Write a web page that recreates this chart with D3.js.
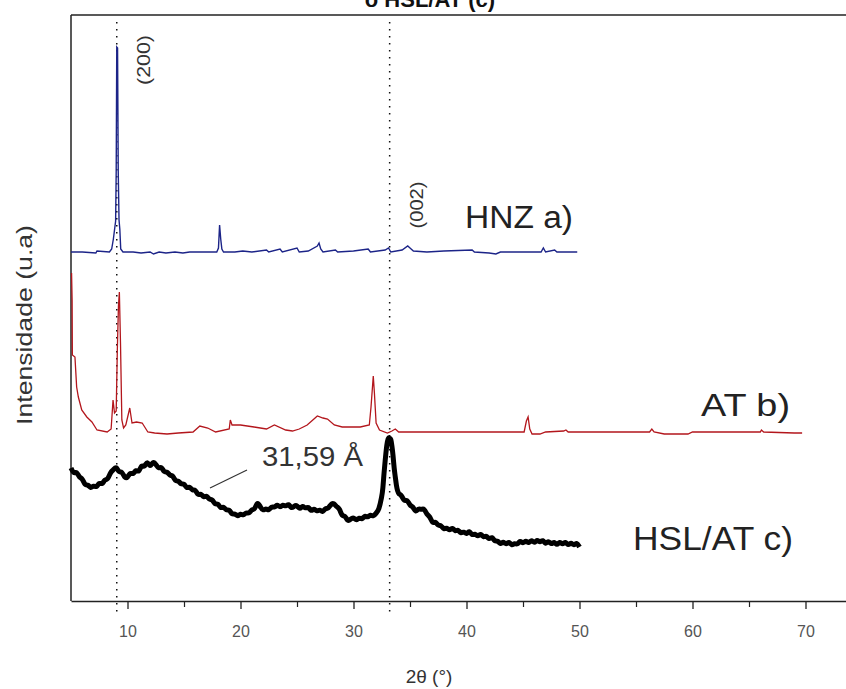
<!DOCTYPE html>
<html>
<head>
<meta charset="utf-8">
<script src="https://cdn.jsdelivr.net/npm/d3@7"></script>
<style>
  html, body { margin: 0; padding: 0; background: #fff; }
  svg { display: block; font-family: "Liberation Sans", Arial, sans-serif; }
</style>
</head>
<body>
<svg id="chart" width="846" height="689"></svg>
<script>
// XRD patterns, 2θ (°) vs intensity (a.u., stacked)
const xTicks = [10, 20, 30, 40, 50, 60, 70];
const xMinorTicks = [15, 25, 35, 45, 55, 65];
const referenceLines = [9.05, 33.2];

// HNZ a)
const hnz = [[5.0,349],[6.0,349],[7.2,348],[7.3,350],[8.4,349],[8.6,352],[8.75,362],[8.85,371],[8.95,380],[9.0,430],[9.05,554],[9.12,553],[9.18,430],[9.25,381],[9.32,372],[9.4,352],[9.6,349],[10.5,349],[11.2,348],[12.0,349],[12.3,347],[12.8,349],[13.4,348],[14.2,349],[14.9,348],[15.5,349],[17.9,349],[18.05,353],[18.15,376],[18.25,362],[18.35,352],[18.5,349],[19.5,349],[20.2,350],[21.0,349],[22.3,351],[22.5,349],[23.5,352],[23.7,349],[25.0,353],[25.2,349],[26.0,350],[26.8,355],[26.95,358],[27.1,352],[27.3,349],[28.4,351],[28.6,349],[30.0,350],[31.3,352],[31.5,349],[32.8,351],[33.1,353],[33.3,349],[34.3,351],[34.8,355],[35.0,353],[35.3,350],[36.5,349],[38.0,350],[40.5,351],[40.7,349],[42.0,348],[42.6,347],[43.0,349],[46.6,349],[46.8,353],[47.0,349],[47.8,351],[48.0,349],[49.8,349]];

// AT b)
const at = [[5.05,328],[5.1,300],[5.12,246],[5.35,244],[5.5,214],[5.65,204],[5.95,191],[6.4,184],[6.85,179],[7.3,171],[8.2,169],[8.55,172],[8.72,201],[8.85,188],[9.0,190],[9.1,251],[9.2,295],[9.28,309],[9.38,258],[9.5,181],[9.65,173],[9.85,176],[10.2,193],[10.4,178],[10.8,179],[11.3,178],[11.8,169],[12.4,168],[13.5,167],[14.5,168],[15.8,169],[16.4,175],[17.1,173],[17.8,169],[19.0,172],[19.1,181],[19.25,176],[20.0,176],[21.2,174],[22.3,172],[23.0,176],[24.0,171],[24.6,170],[25.2,172],[25.9,176],[26.5,182],[26.8,185],[27.3,183],[27.7,182],[28.3,176],[29.0,174],[30.6,174],[31.4,176],[31.55,194],[31.75,225],[31.85,208],[32.0,178],[32.3,171],[33.0,168],[33.4,170],[33.7,172],[34.0,169],[36.0,169],[40.0,169],[45.1,169],[45.3,180],[45.45,184],[45.6,172],[45.8,167],[46.5,167],[47.0,169],[48.6,170],[48.8,171],[49.0,169],[56.2,169],[56.4,172],[56.6,169],[57.5,167],[59.6,167],[60.0,169],[66.0,169],[66.1,171],[66.3,169],[69.0,168],[69.7,168]];

// HSL/AT c)
const hslAt = [
  [5.0,133],[5.25,127],[5.5,130],[5.75,123],[6.0,123],[6.25,115],[6.5,117],[6.75,112],[7.0,116],[7.25,113],
  [7.5,119],[7.75,116],[8.0,122],[8.25,121],[8.5,129],[8.75,131],[9.0,135],[9.25,128],[9.5,130],[9.75,123],
  [10.0,123],[10.25,129],[10.5,126],[10.75,132],[11.0,128],[11.25,137],[11.5,133],[11.75,141],[12.0,133],[12.25,140],
  [12.5,137],[12.75,132],[13.0,135],[13.25,128],[13.5,130],[13.75,125],[14.0,126],[14.25,119],[14.5,121],[14.75,116],
  [15.0,118],[15.25,112],[15.5,115],[15.75,110],[16.0,112],[16.25,105],[16.5,108],[16.75,103],[17.0,106],[17.25,101],
  [17.5,102],[17.75,96],[18.0,98],[18.25,92],[18.5,95],[18.75,90],[19.0,92],[19.25,86],[19.5,88],[19.75,84],
  [20.0,88],[20.25,85],[20.5,89],[20.75,87],[21.0,92],[21.25,91],[21.5,100],[21.75,94],[22.0,90],[22.25,93],
  [22.5,90],[22.75,95],[23.0,93],[23.25,97],[23.5,93],[23.75,97],[24.0,94],[24.25,98],[24.5,92],[24.75,95],
  [25.0,96],[25.25,91],[25.5,96],[25.75,92],[26.0,95],[26.25,89],[26.5,93],[26.75,89],[27.0,92],[27.25,88],
  [27.5,93],[27.75,92],[28.0,97],[28.25,98],[28.5,94],[28.75,93],[29.0,84],[29.25,86],[29.5,79],[29.75,82],
  [30.0,84],[30.25,80],[30.5,84],[30.75,81],[31.0,86],[31.25,83],[31.5,87],[31.75,84],[32.0,88],[32.25,91],
  [32.5,104],[32.6,112],[32.7,128],[32.8,140],[32.9,152],[33.0,160],[33.1,164],[33.2,162],[33.3,163],[33.4,155],
  [33.5,146],[33.6,132],[33.7,124],[33.8,115],[33.9,110],[34.0,107],
  [34.25,106],[34.5,99],[34.75,102],[35.0,95],[35.25,95],[35.5,88],[35.75,93],[36.0,91],[36.25,93],[36.5,86],
  [36.75,85],[37.0,77],[37.25,80],[37.5,75],[37.75,76],[38.0,71],[38.25,74],[38.5,70],[38.75,74],[39.0,69],
  [39.25,72],[39.5,67],[39.75,70],[40.0,66],[40.25,71],[40.5,65],[40.75,68],[41.0,64],[41.25,68],[41.5,63],
  [41.75,66],[42.0,61],[42.25,65],[42.5,59],[42.75,61],[43.0,56],[43.25,60],[43.5,56],[43.75,60],[44.0,55],
  [44.25,58],[44.5,56],[44.75,61],[45.0,57],[45.25,61],[45.5,57],[45.75,62],[46.0,57],[46.25,62],[46.5,58],
  [46.75,62],[47.0,56],[47.25,61],[47.5,56],[47.75,60],[48.0,55],[48.25,60],[48.5,56],[48.75,60],[49.0,55],
  [49.25,59],[49.5,55],[49.75,59],[50.0,54]
];

const svg = d3.select("#chart");
const plotLeft = 71, plotTop = 15, plotBottom = 601;

const x = d3.scaleLinear().domain([5, 75]).range([plotLeft, plotLeft + 70 * 11.3]);
const y = d3.scaleLinear().domain([0, 586]).range([plotBottom, plotTop]);

// title, partly above the visible area
svg.append("text")
  .attr("x", 430).attr("y", 7)
  .attr("text-anchor", "middle")
  .attr("font-size", 22).attr("font-weight", "bold").attr("fill", "#111")
  .text("o HSL/AT (c)");

// frame: top and left borders
svg.append("line").attr("x1", plotLeft).attr("x2", 846).attr("y1", plotTop).attr("y2", plotTop)
  .attr("stroke", "#222").attr("stroke-width", 1.5);
svg.append("line").attr("x1", plotLeft).attr("x2", plotLeft).attr("y1", plotTop).attr("y2", plotBottom)
  .attr("stroke", "#222").attr("stroke-width", 1.5);

// reference dotted lines
svg.selectAll("line.ref").data(referenceLines).join("line")
  .attr("class", "ref")
  .attr("x1", d => x(d)).attr("x2", d => x(d))
  .attr("y1", 22).attr("y2", 612)
  .attr("stroke", "#111").attr("stroke-width", 1.5)
  .attr("stroke-dasharray", "1.5,5.5");

const line = d3.line().x(d => x(d[0])).y(d => y(d[1]));
const noisyLine = d3.line().x(d => x(d[0])).y(d => y(d[1])).curve(d3.curveBasis);

svg.append("path").datum(hnz).attr("d", line)
  .attr("fill", "none").attr("stroke", "#1c2488").attr("stroke-width", 1.4);
svg.append("path").datum(at).attr("d", line)
  .attr("fill", "none").attr("stroke", "#b3161c").attr("stroke-width", 1.3);
svg.append("path").datum(hslAt).attr("d", noisyLine)
  .attr("fill", "none").attr("stroke", "#000").attr("stroke-width", 5);

// bottom axis
const gx = svg.append("g").attr("transform", `translate(0,${plotBottom})`);
gx.call(d3.axisBottom(x).tickValues(xTicks).tickFormat(d3.format("d")).tickSize(8).tickSizeOuter(0).tickPadding(17));
gx.select(".domain").attr("stroke", "#222").attr("stroke-width", 1.5);
gx.selectAll(".tick line").attr("stroke", "#222").attr("stroke-width", 1.3);
gx.selectAll(".tick text").attr("font-size", 16).attr("fill", "#555")
  .attr("font-family", "'Liberation Sans', Arial, sans-serif");
const gm = svg.append("g").attr("transform", `translate(0,${plotBottom})`);
gm.call(d3.axisBottom(x).tickValues(xMinorTicks).tickFormat("").tickSize(6).tickSizeOuter(0));
gm.select(".domain").remove();
gm.selectAll(".tick line").attr("stroke", "#222").attr("stroke-width", 1.2);

// axis titles
svg.append("text").attr("x", 429).attr("y", 683)
  .attr("text-anchor", "middle").attr("font-size", 19).attr("fill", "#333")
  .text("2θ (°)");
svg.append("text")
  .attr("transform", "translate(32,325) rotate(-90)")
  .attr("text-anchor", "middle").attr("font-size", 22).attr("fill", "#333")
  .attr("textLength", 200).attr("lengthAdjust", "spacingAndGlyphs")
  .text("Intensidade (u.a)");

// peak indices
svg.append("text").attr("transform", "translate(150,60) rotate(-90)")
  .attr("text-anchor", "middle").attr("font-size", 18).attr("fill", "#333")
  .attr("textLength", 50).attr("lengthAdjust", "spacingAndGlyphs").text("(200)");
svg.append("text").attr("transform", "translate(423,205) rotate(-90)")
  .attr("text-anchor", "middle").attr("font-size", 18).attr("fill", "#333")
  .attr("textLength", 47).attr("lengthAdjust", "spacingAndGlyphs").text("(002)");

// series labels
svg.append("text").attr("x", 465).attr("y", 228).attr("font-size", 31).attr("fill", "#222")
  .attr("textLength", 108).attr("lengthAdjust", "spacingAndGlyphs").text("HNZ a)");
svg.append("text").attr("x", 701).attr("y", 416).attr("font-size", 31).attr("fill", "#222")
  .attr("textLength", 89).attr("lengthAdjust", "spacingAndGlyphs").text("AT b)");
svg.append("text").attr("x", 633).attr("y", 550).attr("font-size", 33).attr("fill", "#222")
  .attr("textLength", 160).attr("lengthAdjust", "spacingAndGlyphs").text("HSL/AT c)");

// d-spacing annotation
svg.append("text").attr("x", 262).attr("y", 466).attr("font-size", 28).attr("fill", "#333")
  .attr("textLength", 101).attr("lengthAdjust", "spacingAndGlyphs").text("31,59 Å");
svg.append("line").attr("x1", 210).attr("y1", 488).attr("x2", 247).attr("y2", 470)
  .attr("stroke", "#333").attr("stroke-width", 1.2);
</script>
</body>
</html>
